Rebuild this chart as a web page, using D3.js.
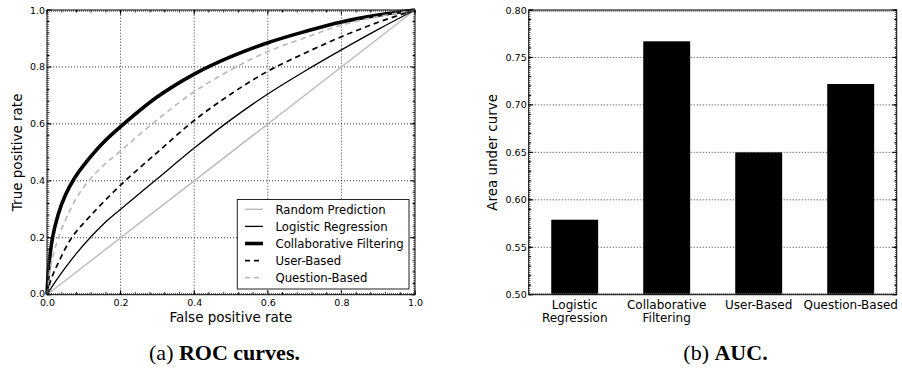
<!DOCTYPE html>
<html>
<head>
<meta charset="utf-8">
<script src="https://cdn.jsdelivr.net/npm/d3@7"></script>
<style>
  body { margin: 0; background: #fff; }
  svg { display: block; }
  text { font-family: "DejaVu Sans", sans-serif; fill: #000; }
</style>
</head>
<body>
<svg id="chart" width="902" height="373"></svg>
<script>
// ROC curves (false positive rate, true positive rate)
const randomFpr = [0, 1];
const randomTpr = [0, 1];
const logisticFpr = [0, 0.025, 0.05, 0.08, 0.117, 0.155, 0.2, 0.293, 0.4, 0.5, 0.6, 0.7, 0.8, 0.9, 1];
const logisticTpr = [0, 0.05, 0.095, 0.145, 0.2, 0.25, 0.3, 0.4, 0.515, 0.615, 0.705, 0.785, 0.86, 0.932, 1];
const collabFpr = [0, 0.005, 0.015, 0.03, 0.05, 0.075, 0.1, 0.15, 0.2, 0.3, 0.4, 0.5, 0.6, 0.7, 0.8, 0.9, 1];
const collabTpr = [0, 0.1, 0.2, 0.28, 0.35, 0.41, 0.455, 0.53, 0.59, 0.695, 0.775, 0.836, 0.885, 0.924, 0.958, 0.982, 1];
const userFpr = [0, 0.01, 0.03, 0.067, 0.12, 0.2, 0.3, 0.4, 0.5, 0.6, 0.7, 0.8, 0.9, 1];
const userTpr = [0, 0.05, 0.11, 0.2, 0.28, 0.385, 0.5, 0.612, 0.705, 0.785, 0.848, 0.906, 0.957, 1];
const questionFpr = [0, 0.01, 0.031, 0.06, 0.085, 0.11, 0.15, 0.2, 0.3, 0.4, 0.5, 0.6, 0.7, 0.8, 0.9, 1];
const questionTpr = [0, 0.1, 0.2, 0.29, 0.35, 0.395, 0.45, 0.505, 0.615, 0.713, 0.79, 0.854, 0.902, 0.947, 0.977, 1];

const rocTicks = ['0.0', '0.2', '0.4', '0.6', '0.8', '1.0'];

// AUC bars
const aucCategories = ['Logistic Regression', 'Collaborative Filtering', 'User-Based', 'Question-Based'];
const aucLabels = [['Logistic', 'Regression'], ['Collaborative', 'Filtering'], ['User-Based'], ['Question-Based']];
const aucValues = [0.579, 0.767, 0.65, 0.722];
const aucTicks = ['0.50', '0.55', '0.60', '0.65', '0.70', '0.75', '0.80'];

const svg = d3.select('#chart');

// ---------- left: ROC ----------
const x = d3.scaleLinear().domain([0, 1]).range([47, 415]);
const y = d3.scaleLinear().domain([0, 1]).range([294.7, 10]);

const left = svg.append('g');

// dotted grid
left.append('g').selectAll('line.gx')
  .data([0.2, 0.4, 0.6, 0.8]).join('line')
  .attr('x1', d => x(d)).attr('x2', d => x(d))
  .attr('y1', y(0)).attr('y2', y(1))
  .attr('stroke', '#000').attr('stroke-width', 0.8).attr('stroke-dasharray', '1,2');
left.append('g').selectAll('line.gy')
  .data([0.2, 0.4, 0.6, 0.8]).join('line')
  .attr('x1', x(0)).attr('x2', x(1))
  .attr('y1', d => y(d)).attr('y2', d => y(d))
  .attr('stroke', '#000').attr('stroke-width', 0.8).attr('stroke-dasharray', '1,2');

function drawFrame(g, x0, x1, y0, y1) {
  // hatched minor-tick band along each edge, then the frame itself
  g.append('g').selectAll('line')
    .data([[x0, y0 + 1, x1, y0 + 1], [x0, y1 - 1, x1, y1 - 1], [x0 + 1, y0, x0 + 1, y1], [x1 - 1, y0, x1 - 1, y1]])
    .join('line')
    .attr('x1', d => d[0]).attr('y1', d => d[1]).attr('x2', d => d[2]).attr('y2', d => d[3])
    .attr('stroke', '#666').attr('stroke-width', 1.5).attr('stroke-dasharray', '1,1');
  g.append('rect')
    .attr('x', x0).attr('y', y0).attr('width', x1 - x0).attr('height', y1 - y0)
    .attr('fill', 'none').attr('stroke', '#000').attr('stroke-width', 1);
}

function tickMarks(g, scale, values, len, horizontal, a, b) {
  // inward ticks on both opposite edges
  values.forEach(v => {
    const p = scale(v);
    if (horizontal) {
      g.append('line').attr('x1', p).attr('x2', p).attr('y1', a).attr('y2', a - len).attr('stroke', '#000');
      g.append('line').attr('x1', p).attr('x2', p).attr('y1', b).attr('y2', b + len).attr('stroke', '#000');
    } else {
      g.append('line').attr('y1', p).attr('y2', p).attr('x1', a).attr('x2', a + len).attr('stroke', '#000');
      g.append('line').attr('y1', p).attr('y2', p).attr('x1', b).attr('x2', b - len).attr('stroke', '#000');
    }
  });
}

const rocMinor = d3.range(0, 1.0001, 0.04);
const rocMajor = rocTicks.map(Number);
tickMarks(left, x, rocMinor, 2.5, true, y(0), y(1));
tickMarks(left, y, rocMinor, 2.5, false, x(0), x(1));
tickMarks(left, x, rocMajor, 4.5, true, y(0), y(1));
tickMarks(left, y, rocMajor, 4.5, false, x(0), x(1));

// curves
const line = d3.line().x(d => x(d[0])).y(d => y(d[1])).curve(d3.curveCatmullRom.alpha(0.5));
const zip = (a, b) => a.map((v, i) => [v, b[i]]);

const series = [
  { name: 'Random Prediction', fpr: randomFpr, tpr: randomTpr, color: '#bbbbbb', width: 1.4, dash: null },
  { name: 'Logistic Regression', fpr: logisticFpr, tpr: logisticTpr, color: '#000', width: 1.3, dash: null },
  { name: 'Collaborative Filtering', fpr: collabFpr, tpr: collabTpr, color: '#000', width: 3.6, dash: null },
  { name: 'User-Based', fpr: userFpr, tpr: userTpr, color: '#000', width: 1.7, dash: '5.5,4' },
  { name: 'Question-Based', fpr: questionFpr, tpr: questionTpr, color: '#bbbbbb', width: 1.7, dash: '5.5,4' }
];

left.append('g').selectAll('path')
  .data(series).join('path')
  .attr('d', d => line(zip(d.fpr, d.tpr)))
  .attr('fill', 'none')
  .attr('stroke', d => d.color)
  .attr('stroke-width', d => d.width)
  .attr('stroke-dasharray', d => d.dash);

drawFrame(left, x(0), x(1), y(1), y(0));

// tick labels
left.append('g')
  .attr('transform', `translate(0,${y(0)})`)
  .call(d3.axisBottom(x).tickValues(rocMajor).tickFormat((d, i) => rocTicks[i]).tickSize(0).tickPadding(5))
  .call(g => g.select('.domain').remove())
  .selectAll('text').style('font-size', '9.5px').style('font-family', '"DejaVu Sans"');
left.append('g')
  .attr('transform', `translate(${x(0)},0)`)
  .call(d3.axisLeft(y).tickValues(rocMajor).tickFormat((d, i) => rocTicks[i]).tickSize(0).tickPadding(2))
  .call(g => g.select('.domain').remove())
  .selectAll('text').style('font-size', '9.5px').style('font-family', '"DejaVu Sans"')
  .attr('dy', (d, i) => i === 0 ? '0.15em' : '0.32em');

left.append('text')
  .attr('x', (x(0) + x(1)) / 2).attr('y', 322)
  .attr('text-anchor', 'middle').style('font-size', '13.5px')
  .text('False positive rate');
left.append('text')
  .attr('transform', `translate(22,${(y(0) + y(1)) / 2}) rotate(-90)`)
  .attr('text-anchor', 'middle').style('font-size', '13.5px')
  .text('True positive rate');

// legend
const legend = left.append('g');
legend.append('rect')
  .attr('x', 237.3).attr('y', 199.5).attr('width', 171.7).attr('height', 89.5)
  .attr('fill', '#fff').attr('stroke', '#222').attr('stroke-width', 1);
const rowY = d3.scalePoint().domain(series.map(d => d.name)).range([209.3, 277.7]);
const items = legend.selectAll('g.item').data(series).join('g')
  .attr('transform', d => `translate(0,${rowY(d.name)})`);
items.append('line')
  .attr('x1', 245).attr('x2', 263)
  .attr('stroke', d => d.color)
  .attr('stroke-width', d => d.width)
  .attr('stroke-dasharray', d => d.dash ? '5,4' : null);
items.append('text')
  .attr('x', 275.5).attr('dy', '0.36em')
  .style('font-size', '11.7px')
  .text(d => d.name);

// ---------- right: AUC ----------
const xb = d3.scaleBand().domain(aucCategories).range([528.7, 896.7]).paddingInner(0.49).paddingOuter(0.245);
const yb = d3.scaleLinear().domain([0.5, 0.8]).range([294.7, 10]);
const aucMajor = aucTicks.map(Number);

const right = svg.append('g');

right.append('g').selectAll('line')
  .data(aucMajor.slice(1, -1)).join('line')
  .attr('x1', xb.range()[0]).attr('x2', xb.range()[1])
  .attr('y1', d => yb(d)).attr('y2', d => yb(d))
  .attr('stroke', '#000').attr('stroke-width', 0.8).attr('stroke-dasharray', '1,2');

right.append('g').selectAll('rect')
  .data(aucValues).join('rect')
  .attr('x', (d, i) => xb(aucCategories[i]))
  .attr('width', xb.bandwidth())
  .attr('y', d => yb(d))
  .attr('height', d => yb(0.5) - yb(d))
  .attr('fill', '#000');

drawFrame(right, xb.range()[0], xb.range()[1], yb(0.8), yb(0.5));
tickMarks(right, yb, d3.range(0.5, 0.8001, 0.01), 2.5, false, xb.range()[0], xb.range()[1]);
tickMarks(right, yb, aucMajor, 4.5, false, xb.range()[0], xb.range()[1]);

right.append('g')
  .attr('transform', `translate(${xb.range()[0]},0)`)
  .call(d3.axisLeft(yb).tickValues(aucMajor).tickFormat((d, i) => aucTicks[i]).tickSize(0).tickPadding(2))
  .call(g => g.select('.domain').remove())
  .selectAll('text').style('font-size', '9.5px').style('font-family', '"DejaVu Sans"');

const catLabels = right.append('g').selectAll('text')
  .data(aucCategories).join('text')
  .attr('x', d => xb(d) + xb.bandwidth() / 2)
  .attr('y', 309)
  .attr('text-anchor', 'middle')
  .style('font-size', '12px');
catLabels.selectAll('tspan')
  .data((d, i) => aucLabels[i]).join('tspan')
  .attr('x', function () { return this.parentNode.getAttribute('x'); })
  .attr('dy', (d, i) => i === 0 ? 0 : 12.5)
  .text(d => d);

right.append('text')
  .attr('transform', `translate(497,${(yb(0.5) + yb(0.8)) / 2}) rotate(-90)`)
  .attr('text-anchor', 'middle').style('font-size', '13.5px')
  .text('Area under curve');

// ---------- captions ----------
const captions = [
  { cx: 224.5, tag: '(a) ', title: 'ROC curves.' },
  { cx: 725.5, tag: '(b) ', title: 'AUC.' }
];
captions.forEach(c => {
  const t = svg.append('text')
    .attr('x', c.cx).attr('y', 360)
    .attr('text-anchor', 'middle')
    .style('font-family', '"Liberation Serif", "Times New Roman", serif')
    .style('font-size', '22px');
  t.append('tspan').text(c.tag);
  t.append('tspan').style('font-weight', 'bold').text(c.title);
});
</script>
</body>
</html>
